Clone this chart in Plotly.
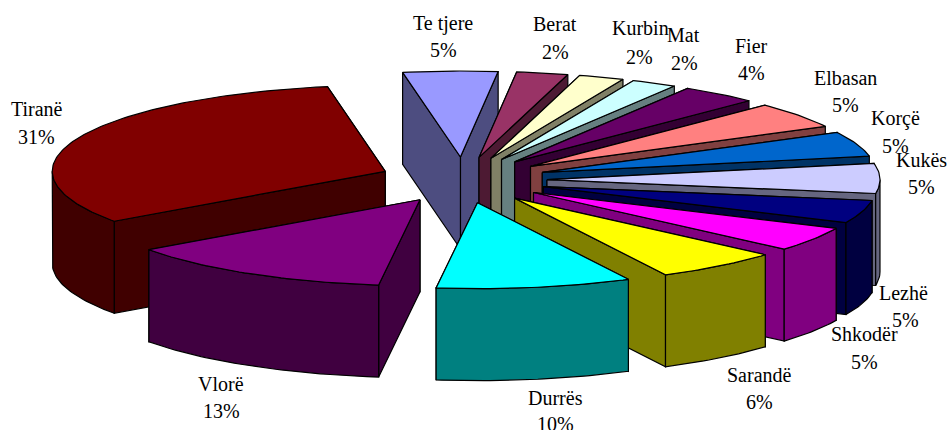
import numpy as np
import plotly.graph_objects as go

names = ["Te tjere", "Berat", "Kurbin", "Mat", "Fier", "Elbasan", "Korçë", "Kukës",
         "Lezhë", "Shkodër", "Sarandë", "Durrës", "Vlorë", "Tiranë"]
# printed percentages
pct_labels = [5, 2, 2, 2, 4, 5, 5, 5, 5, 5, 6, 10, 13, 31]
# slice sizes as they measure on the drawn pie
shares = [4.6, 2.5, 2.2, 2.2, 3.75, 4.9, 4.7, 5.6, 4.3, 4.6, 6.1, 9.5, 13.2, 32.2]

top_colors = ["#9999ff", "#993366", "#ffffcc", "#ccffff", "#660066", "#ff8080", "#0066cc",
              "#ccccff", "#000080", "#ff00ff", "#ffff00", "#00ffff", "#800080", "#800000"]
side_colors = ["#4d4d80", "#4d1a33", "#808066", "#668080", "#330033", "#804040", "#003366",
               "#666680", "#000040", "#800080", "#808000", "#008080", "#400040", "#400000"]

# label centres, in page pixels: name line and percent line
name_pos = [(443, 23), (555, 24), (640, 28), (683, 35), (751, 46), (845, 78), (895, 118),
            (921, 160), (903, 293), (864, 334), (759, 375), (555, 398), (221, 384), (37, 109)]
pct_pos = [(443, 50), (555, 52), (639, 57), (684, 63), (751, 73), (845, 105), (895, 146),
           (921, 187), (905, 320), (864, 362), (759, 402), (555, 424), (221, 411), (36, 137)]

# pie geometry
CX, CY = 463, 180
RX, RY = 333, 86
EX, EY = 84, 23
DEPTH = 92
START = -10

fig = go.Figure()


def add_poly(xs, ys, color):
    fig.add_trace(go.Scatter(
        x=list(xs) + [xs[0]], y=list(ys) + [ys[0]], mode="lines", fill="toself",
        fillcolor=color, line=dict(color="#000000", width=1.2),
        hoverinfo="skip", showlegend=False,
    ))


edges = START + np.cumsum([0] + shares) / sum(shares) * 360
mids = (edges[:-1] + edges[1:]) / 2
# far slices first so nearer ones paint over them
order = np.argsort(-np.cos(np.radians(mids)))

for i in order:
    a0, a1 = edges[i], edges[i + 1]
    m = np.radians(mids[i])
    ax = CX + EX * np.sin(m)
    ay = CY - EY * np.cos(m)

    def rim(a):
        return ax + RX * np.sin(np.radians(a)), ay - RY * np.cos(np.radians(a))

    # radial walls, far one first
    walls = sorted([a0, a1], key=lambda a: -np.cos(np.radians(a)))
    for a in walls:
        px, py = rim(a)
        add_poly([ax, px, px, ax], [ay, py, py + DEPTH, ay + DEPTH], side_colors[i])

    # outer wall only where it faces the viewer
    lo, hi = max(a0, 90), min(a1, 270)
    if hi > lo:
        t = np.linspace(lo, hi, max(int(hi - lo), 2))
        px, py = rim(t)
        add_poly(np.r_[px, px[::-1]], np.r_[py, py[::-1] + DEPTH], side_colors[i])

    t = np.linspace(a0, a1, max(int(a1 - a0), 2))
    px, py = rim(t)
    add_poly(np.r_[ax, px], np.r_[ay, py], top_colors[i])

font = dict(family="Liberation Serif", size=20, color="#000000")
for name, value, p, q in zip(names, pct_labels, name_pos, pct_pos):
    fig.add_annotation(x=p[0], y=p[1], text=name, showarrow=False, font=font)
    fig.add_annotation(x=q[0], y=q[1], text=f"{value}%", showarrow=False, font=font)

fig.update_layout(
    width=947, height=430, margin=dict(l=0, r=0, t=0, b=0),
    paper_bgcolor="#ffffff", plot_bgcolor="#ffffff", showlegend=False,
)
fig.update_xaxes(range=[0, 947], visible=False)
fig.update_yaxes(range=[430, 0], visible=False)

fig.write_html("out.html", config={"displayModeBar": False},
               post_script="document.body.style.margin='0';document.body.style.overflow='hidden';")
